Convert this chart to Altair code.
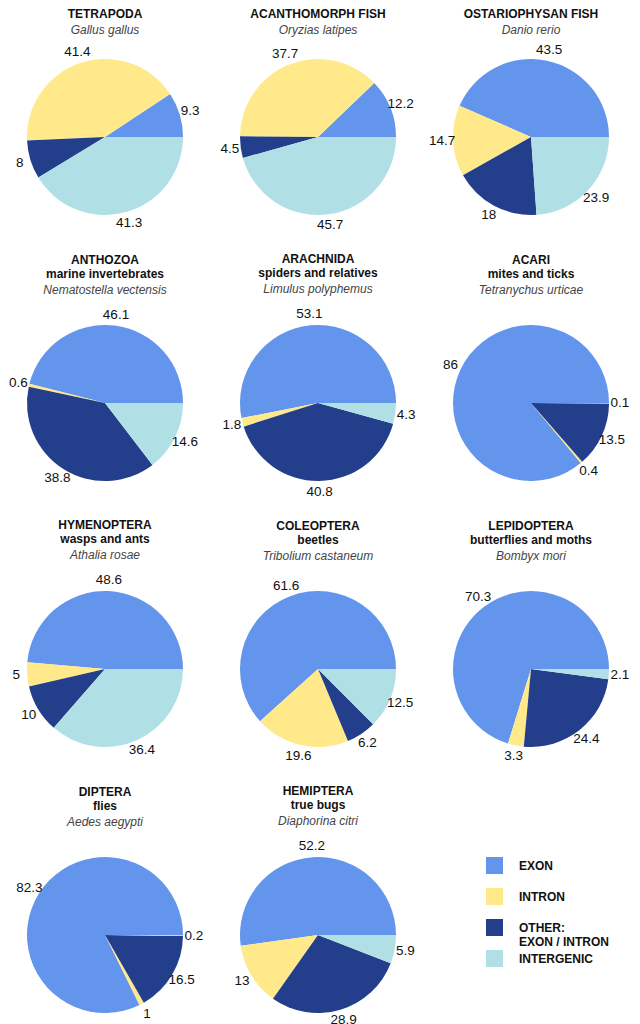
import math
import altair as alt
import pandas as pd

# ---- data -------------------------------------------------------------
groups = ["TETRAPODA", "ACANTHOMORPH FISH", "OSTARIOPHYSAN FISH",
          "ANTHOZOA", "ARACHNIDA", "ACARI",
          "HYMENOPTERA", "COLEOPTERA", "LEPIDOPTERA",
          "DIPTERA", "HEMIPTERA"]
common = ["", "", "",
          "marine invertebrates", "spiders and relatives", "mites and ticks",
          "wasps and ants", "beetles", "butterflies and moths",
          "flies", "true bugs"]
species = ["Gallus gallus", "Oryzias latipes", "Danio rerio",
           "Nematostella vectensis", "Limulus polyphemus", "Tetranychus urticae",
           "Athalia rosae", "Tribolium castaneum", "Bombyx mori",
           "Aedes aegypti", "Diaphorina citri"]
exon = [9.3, 12.2, 43.5, 46.1, 53.1, 86, 48.6, 61.6, 70.3, 82.3, 52.2]
intron = [41.4, 37.7, 14.7, 0.6, 1.8, 0.4, 5, 19.6, 3.3, 1, 13]
other = [8, 4.5, 18, 38.8, 40.8, 13.5, 10, 6.2, 24.4, 16.5, 28.9]
intergenic = [41.3, 45.7, 23.9, 14.6, 4.3, 0.1, 36.4, 12.5, 2.1, 0.2, 5.9]

categories = ["EXON", "INTRON", "OTHER: EXON / INTRON", "INTERGENIC"]
colors = ["#6495ED", "#FFE98A", "#233E8B", "#B0E0E6"]

FONT = "Liberation Sans"
W, H = 182, 190
ROW_SPACING = 76
COL_SPACING = 31

color_enc = alt.Color(
    "category:N",
    scale=alt.Scale(domain=categories, range=colors),
    legend=alt.Legend(
        title=None, orient="none", legendX=472, legendY=815,
        symbolType="square", symbolSize=289, symbolStrokeWidth=0,
        labelFont=FONT, labelFontSize=12, labelFontWeight="bold",
        labelColor="#111111", labelOffset=16, rowPadding=2,
        gridAlign="all", labelLimit=0, padding=0,
        labelExpr="datum.label == 'OTHER: EXON / INTRON' ? ['OTHER:', 'EXON / INTRON'] : datum.label",
    ),
)


def panel(i):
    vals = [exon[i], intron[i], other[i], intergenic[i]]
    df = pd.DataFrame({
        "category": categories,
        "idx": [0, 1, 2, 3],
        "value": vals,
        "label": [f"{v:g}" for v in vals],
    })
    base = alt.Chart(df).encode(
        theta=alt.Theta("value:Q", stack=True,
                        scale=alt.Scale(range=[math.pi / 2, math.pi * 2.5])),
        order=alt.Order("idx:Q", sort="descending"),
    )
    pie = base.mark_arc(outerRadius=78, stroke=None).encode(color=color_enc)
    txt = base.mark_text(radius=89, font=FONT, fontSize=13.5,
                         color="#111111").encode(text="label:N")
    lines = [groups[i]] + ([common[i]] if common[i] else [])
    return alt.layer(pie, txt).properties(
        width=W, height=H,
        title=alt.TitleParams(
            text=lines, subtitle=species[i], anchor="middle", frame="group",
            font=FONT, fontSize=12, fontWeight="bold", color="#111111",
            lineHeight=14, subtitleFont=FONT, subtitleFontSize=12,
            subtitleFontStyle="italic", subtitleColor="#444444",
            subtitlePadding=4, offset=5 if i < 3 else 11,
        ),
    )


chart = alt.concat(
    *[panel(k) for k in range(len(groups))],
    columns=3, bounds="flush",
    spacing={"row": ROW_SPACING, "column": COL_SPACING},
).resolve_scale(
    theta="independent", color="shared"
).configure_view(stroke=None).configure(padding=0)

chart.save("out.html", embed_options={"renderer": "svg", "actions": False})
